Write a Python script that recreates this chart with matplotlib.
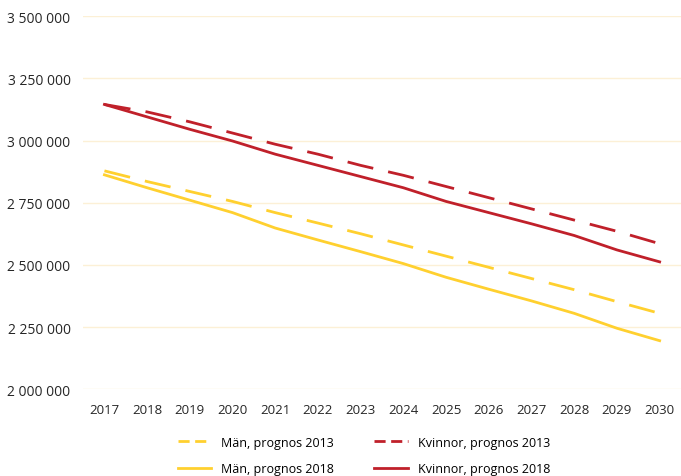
import matplotlib
matplotlib.use('Agg')
import matplotlib.pyplot as plt
from matplotlib.lines import Line2D
from matplotlib.ticker import FuncFormatter

plt.rcParams['font.family'] = ['Open Sans', 'DejaVu Sans']

# Data
years = list(range(2017, 2031))
man_2013 = [2878, 2835, 2795, 2755, 2710, 2668, 2625, 2580, 2535, 2490, 2445, 2400, 2352, 2305]
man_2018 = [2862, 2810, 2760, 2710, 2648, 2600, 2553, 2505, 2450, 2402, 2355, 2305, 2245, 2195]
kvinnor_2013 = [3145, 3115, 3075, 3030, 2985, 2945, 2900, 2860, 2815, 2770, 2725, 2680, 2635, 2585]
kvinnor_2018 = [3145, 3095, 3045, 2998, 2945, 2900, 2855, 2810, 2755, 2710, 2665, 2618, 2560, 2512]
yticks = [2000000, 2250000, 2500000, 2750000, 3000000, 3250000, 3500000]

yellow = '#FFD02F'
red = '#C0202A'

fig = plt.figure(figsize=(6.81, 4.77), dpi=100)
ax = fig.add_axes([0.122, 0.182, 0.878, 0.782])

x = list(range(len(years)))
dash = (0, (9.5, 5.5))
ax.plot(x, [v * 1000 for v in man_2013], color=yellow, lw=2, linestyle=dash)
ax.plot(x, [v * 1000 for v in man_2018], color=yellow, lw=2)
ax.plot(x, [v * 1000 for v in kvinnor_2013], color=red, lw=2, linestyle=dash)
ax.plot(x, [v * 1000 for v in kvinnor_2018], color=red, lw=2)

ax.set_xlim(-0.5, len(years) - 0.5)
ax.set_ylim(2000000, 3500000)
ax.set_xticks(x)
ax.set_xticklabels([str(y) for y in years])
ax.set_yticks(yticks)
ax.yaxis.set_major_formatter(FuncFormatter(lambda v, p: f'{int(v):,}'.replace(',', ' ')))
ax.tick_params(axis='x', length=0, labelsize=9.5, colors='#262626', pad=10)
ax.tick_params(axis='y', length=0, labelsize=10, colors='#262626', pad=9)
ax.grid(axis='y', color='#FCF0D6', lw=1)
ax.set_axisbelow(True)
for s in ax.spines.values():
    s.set_visible(False)

# legend (shorter dashes in the key, as in the original)
ldash = (0, (4, 2))
handles = [
    Line2D([], [], color=yellow, lw=2, linestyle=ldash),
    Line2D([], [], color=yellow, lw=2),
    Line2D([], [], color=red, lw=2, linestyle=ldash),
    Line2D([], [], color=red, lw=2),
]
labels = ['Män, prognos 2013', 'Män, prognos 2018',
          'Kvinnor, prognos 2013', 'Kvinnor, prognos 2018']
ax.legend(handles, labels, loc='upper center', bbox_to_anchor=(0.47, -0.095), ncol=2,
          frameon=False, fontsize=9, handlelength=2.7, handletextpad=0.8,
          columnspacing=3.2, labelspacing=1.05)

fig.savefig('out.png', dpi=100, facecolor='white')
